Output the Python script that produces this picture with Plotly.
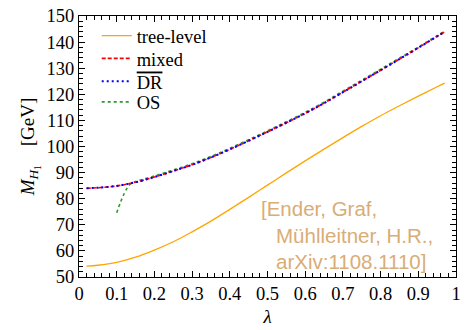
import plotly.graph_objects as go

lam = [0.02, 0.05, 0.1, 0.15, 0.2, 0.25, 0.3, 0.35, 0.4, 0.45, 0.5, 0.55,
       0.6, 0.65, 0.7, 0.75, 0.8, 0.85, 0.9, 0.95, 0.97]
tree = [54.2, 54.5, 55.6, 57.6, 60.3, 63.5, 67.3, 71.4, 75.9, 80.5, 85.2, 89.9,
        94.5, 99.0, 103.4, 107.7, 111.8, 115.6, 119.3, 122.9, 124.3]
mixed = [84.0, 84.2, 84.9, 86.3, 88.3, 90.6, 93.0, 95.8, 98.9, 102.2, 105.6, 109.1,
         112.7, 116.6, 120.8, 125.0, 129.2, 133.5, 137.8, 142.2, 143.9]
drbar = [84.0, 84.2, 84.9, 86.3, 88.3, 90.6, 93.0, 95.8, 98.9, 102.2, 105.6, 109.1,
         112.7, 116.6, 120.8, 125.0, 129.2, 133.5, 137.8, 142.2, 143.9]
lam_os = [0.1, 0.11, 0.12, 0.13, 0.14, 0.15, 0.2, 0.25, 0.3, 0.35, 0.4, 0.45, 0.5,
          0.55, 0.6, 0.65, 0.7, 0.75, 0.8, 0.85, 0.9, 0.95, 0.97]
os_ = [74.6, 78.6, 82.0, 84.6, 86.0, 86.6, 88.7, 91.0, 93.4, 96.2, 99.3, 102.6, 106.0,
       109.5, 113.1, 117.0, 121.2, 125.4, 129.6, 133.9, 138.1, 142.5, 144.1]

xticks = [0, 0.1, 0.2, 0.3, 0.4, 0.5, 0.6, 0.7, 0.8, 0.9, 1]
xticklabels = ["0", "0.1", "0.2", "0.3", "0.4", "0.5", "0.6", "0.7", "0.8", "0.9", "1"]
yticks = [50, 60, 70, 80, 90, 100, 110, 120, 130, 140, 150]

serif = "Liberation Serif"
fig = go.Figure()
fig.add_trace(go.Scatter(x=lam, y=tree, mode="lines", name="tree-level", legend="legend",
                         showlegend=True,
                         line=dict(color="#FFA500", width=1.3, shape="spline")))
fig.add_trace(go.Scatter(x=lam_os, y=os_, mode="lines", name="OS", legend="legend4",
                         showlegend=True,
                         line=dict(color="#2E9A2E", width=1.6, dash="dot", shape="spline")))
fig.add_trace(go.Scatter(x=lam, y=mixed, mode="lines", name="mixed", legend="legend2",
                         showlegend=True,
                         line=dict(color="#FF0000", width=1.6, dash="4px,2px", shape="spline")))
fig.add_trace(go.Scatter(x=lam, y=drbar, mode="lines", legend="legend3", showlegend=True,
                         name='<span style="text-decoration:overline">DR</span>',
                         line=dict(color="#0000FF", width=2, dash="2px,3px", shape="spline")))

axcommon = dict(showgrid=False, zeroline=False, showline=True, linecolor="black",
                linewidth=1.3, mirror="allticks", ticks="inside", ticklen=6,
                tickcolor="black", tickwidth=1.2,
                tickfont=dict(family=serif, size=18.5, color="black"))
fig.update_xaxes(range=[0, 1], tickvals=xticks, ticktext=xticklabels,
                 minor=dict(dtick=0.02, ticks="inside", ticklen=3.5, tickcolor="black", tickwidth=1),
                 title=dict(text="<i>λ</i>", font=dict(family=serif, size=19, color="black"), standoff=6),
                 **axcommon)
fig.update_yaxes(range=[50, 150], tickvals=yticks,
                 minor=dict(dtick=2, ticks="inside", ticklen=3.5, tickcolor="black", tickwidth=1),
                 title=dict(text="<i>M</i><sub><i>H</i><sub>1</sub></sub>\u00a0\u00a0\u00a0\u00a0[GeV]",
                            font=dict(family=serif, size=19, color="black"), standoff=6),
                 **axcommon)

ann_color = "#D9AD76"
sans = "Liberation Sans"
for txt, xp, yp in [("[Ender, Graf,", 0.478, 0.262),
                    ("Mühlleitner, H.R.,", 0.518, 0.158),
                    ("arXiv:1108.1110]", 0.518, 0.058)]:
    fig.add_annotation(text=txt, x=xp, y=yp, xref="paper", yref="paper",
                       xanchor="left", yanchor="middle", showarrow=False,
                       font=dict(family=sans, size=20.5, color=ann_color))

leg_font = dict(family=serif, size=18.5, color="black")
def leg(yp):
    return dict(x=0.047, y=yp, xanchor="left", yanchor="middle",
                bgcolor="rgba(0,0,0,0)", font=leg_font, itemwidth=30)

fig.update_layout(
    width=467, height=330, margin=dict(l=79, r=6, t=14, b=53),
    plot_bgcolor="white", paper_bgcolor="white", showlegend=True,
    legend=leg(0.923), legend2=leg(0.836), legend3=leg(0.748), legend4=leg(0.669),
)
fig.write_html("out.html")
